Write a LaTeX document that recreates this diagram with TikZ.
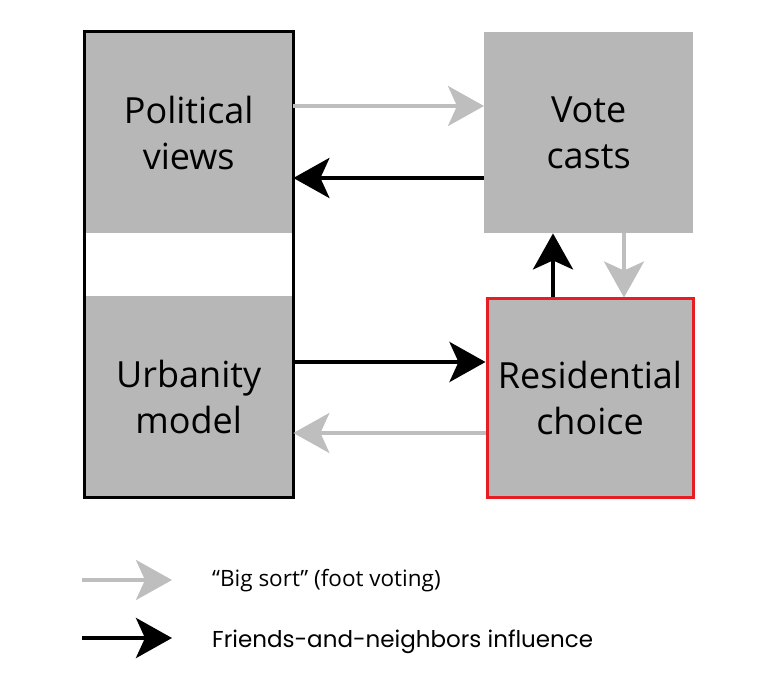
\documentclass[tikz,border=0pt]{standalone}
\usepackage{fontspec}
\setmainfont{Open Sans}
\newfontfamily\legfont{Poppins}
\usetikzlibrary{arrows.meta}
\definecolor{boxgray}{RGB}{183,183,183}
\definecolor{arrgray}{RGB}{190,190,190}
\definecolor{boxred}{RGB}{230,30,36}
\begin{document}
\begin{tikzpicture}[x=1pt,y=-1pt,
  box/.style={fill=boxgray, minimum width=209pt, minimum height=201pt, inner sep=0pt, align=center, font=\fontsize{36}{46}\selectfont},
  grayarr/.style={draw=arrgray, line width=3.5pt, -{Stealth[length=36pt,width=40pt,inset=9pt]}},
  blackarr/.style={draw=black, line width=4.5pt, -{Stealth[length=36pt,width=40pt,inset=9pt]}},
  leg/.style={anchor=base west, inner sep=0pt}
]
\useasboundingbox (0,0) rectangle (777,695);
\node[box, anchor=north west] (pv) at (84,32) {Political\\views};
\node[box, anchor=north west] (um) at (84,296) {Urbanity\\model};
\node[box, anchor=north west] (vc) at (484,32) {Vote\\casts};
\node[box, anchor=north west, draw=boxred, line width=3pt, minimum width=206pt, minimum height=198pt] (rc) at (485.5,297.5) {Residential\\choice};
\draw[line width=3pt] (pv.north west) rectangle (um.south east);
\draw[grayarr] (pv.east |- 0,106) -- (vc.west |- 0,106);
\draw[blackarr] (vc.west |- 0,178) -- (pv.east |- 0,178);
\draw[blackarr] (um.east |- 0,362) -- (rc.west |- 0,362);
\draw[grayarr] (rc.west |- 0,433) -- (um.east |- 0,433);
\draw[blackarr] (rc.north -| 553,0) -- (vc.south -| 553,0);
\draw[grayarr] (vc.south -| 624,0) -- (rc.north -| 624,0);
\coordinate (g1) at (82,580);
\coordinate (g2) at (172,580);
\coordinate (b1) at (82,638);
\coordinate (b2) at (172,638);
\draw[grayarr] (g1) -- (g2);
\draw[blackarr] (b1) -- (b2);
\node[leg, font=\fontsize{22.5}{27}\selectfont] (l1) at (212,586) {``Big sort'' (foot voting)};
\node[leg, font=\legfont\fontsize{23}{28}\selectfont] (l2) at (212,647) {Friends-and-neighbors influence};
\end{tikzpicture}
\end{document}
